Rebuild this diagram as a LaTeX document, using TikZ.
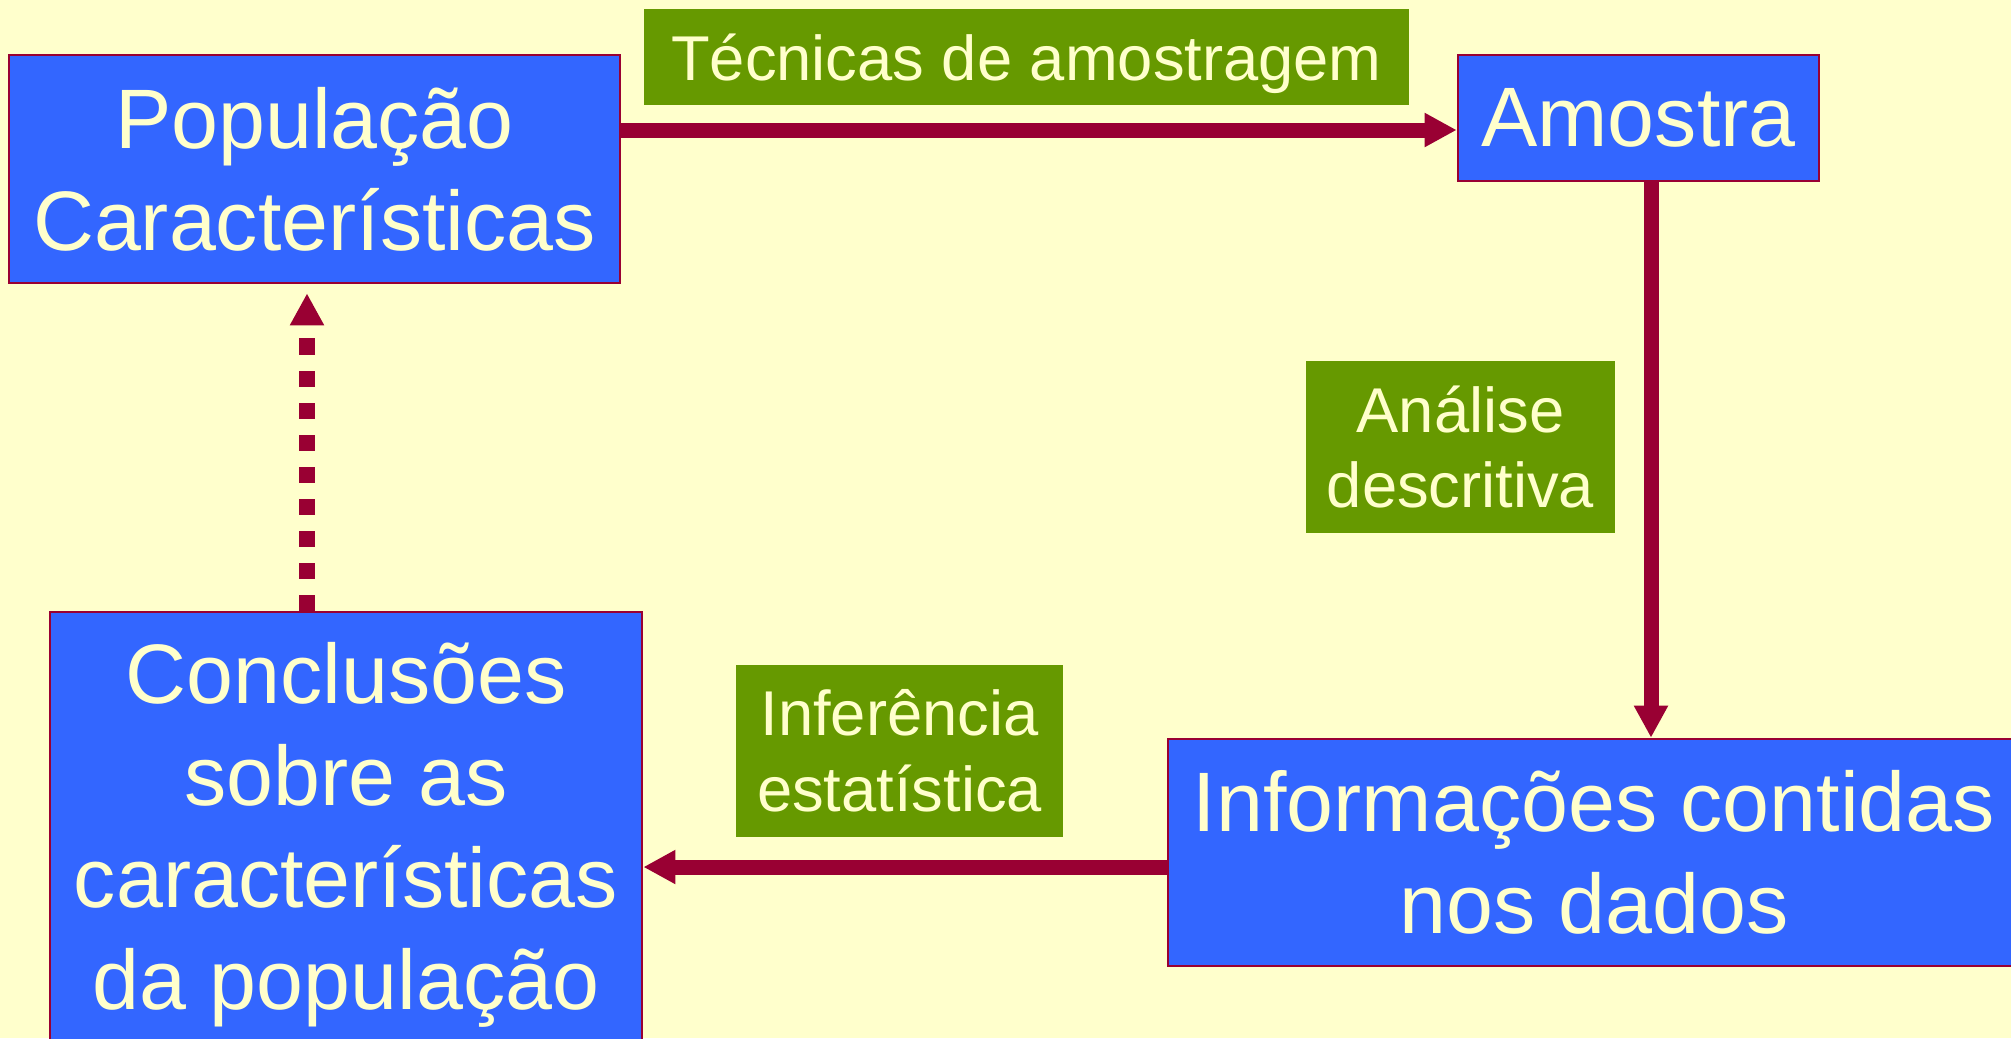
\documentclass[tikz,border=0pt]{standalone}
\usepackage{fontspec}
\setmainfont{Liberation Sans}
\usetikzlibrary{arrows.meta}
\definecolor{slideCream}{HTML}{FFFFCC}
\definecolor{stageBlue}{HTML}{3366FF}
\definecolor{flowRed}{HTML}{990033}
\definecolor{methodGreen}{HTML}{669900}

\begin{document}
\begin{tikzpicture}[x=0.01cm, y=-0.01cm,
    stage/.style={draw=flowRed, line width=0.7pt, fill=stageBlue, text=slideCream,
      align=center, inner sep=0pt, font=\fontsize{24}{29}\selectfont},
    methodTag/.style={fill=methodGreen, text=slideCream, align=center, inner sep=0pt,
      font=\fontsize{18}{21.5}\selectfont},
    flow/.style={flowRed, line width=0.15cm, -{Triangle[length=0.32cm, width=0.32cm]}},
    guess/.style={flowRed, line width=0.16cm, dash pattern=on 0.16cm off 0.16cm,
      -{Triangle[length=0.32cm, width=0.32cm]}}
  ]
    \fill[slideCream] (0,0) rectangle (2011,1038);
    \useasboundingbox (0,0) rectangle (2011,1038);

    \node[stage, minimum width=6.11cm, minimum height=2.28cm] (pop) at (314.5,169) {População\\Características};
    \node[stage, minimum width=3.61cm, minimum height=1.26cm] (amo) at (1638.5,118) {Amostra};
    \node[stage, minimum width=8.52cm, minimum height=2.27cm] (info) at (1594,852.5) {Informações contidas\\nos dados};
    \node[stage, minimum width=5.92cm, minimum height=4.46cm] (conc) at (346,835) {Conclusões\\sobre as\\características\\da população};

    \node[methodTag, minimum width=7.65cm, minimum height=0.96cm, text height=0.59cm, text depth=0.13cm] (tecn) at (1026.5,57) {Técnicas de amostragem};
    \node[methodTag, minimum width=3.08cm, minimum height=1.72cm] (anal) at (1460.5,447) {Análise\\descritiva};
    \node[methodTag, minimum width=3.27cm, minimum height=1.72cm] (infer) at (899.5,751) {Inferência\\estatística};

    \draw[flow] (pop.east |- 0,130) -- (amo.west |- 0,130);
    \draw[flow] (amo.south -| 1651,0) -- (info.north -| 1651,0);
    \draw[flow] (info.west |- 0,867) -- (conc.east |- 0,867);
    \draw[guess, shorten >=0.09cm] (conc.north -| 307,0) -- (pop.south -| 307,0);
\end{tikzpicture}
\end{document}
